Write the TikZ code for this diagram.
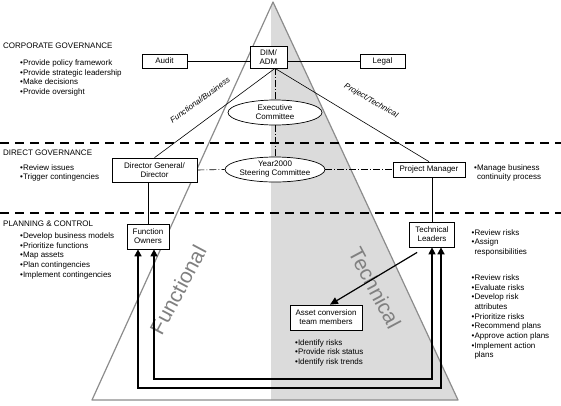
\documentclass[tikz,border=0pt]{standalone}
\usepackage{fontspec}
\setmainfont{Liberation Sans}
\usetikzlibrary{shapes.geometric, arrows.meta}

\begin{document}
\begin{tikzpicture}[
  x = 1pt,
  y = -1pt,
  every node/.style = {
    font = \fontsize{8}{9}\selectfont,
    inner sep = 0pt
  },
  box/.style = {
    draw = black,
    fill = white,
    align = center,
    line width = 0.7pt
  },
  committee/.style = {
    shape = ellipse,
    draw = black,
    fill = white,
    align = center,
    line width = 0.7pt,
    minimum width = 94pt,
    minimum height = 25pt
  },
  heading/.style = {
    anchor = north west,
    font = \fontsize{8}{9.7}\selectfont
  },
  notes/.style = {
    anchor = north west,
    align = left,
    font = \fontsize{8}{9.7}\selectfont
  },
  linelabel/.style = {
    font = \itshape\fontsize{8}{9}\selectfont
  },
  bigword/.style = {
    font = \fontsize{21}{21}\selectfont,
    text = black!50
  },
  divider/.style = {
    line width = 1.6pt,
    dash pattern = on 9pt off 6pt
  },
  link/.style = {
    line width = 0.6pt
  },
  liaison/.style = {
    line width = 0.6pt,
    dash pattern = on 7pt off 2pt on 1pt off 2pt
  },
  feedback/.style = {
    line width = 1.6pt,
    arrows = {Triangle[width = 7pt, length = 7pt]-Triangle[width = 7pt, length = 7pt]}
  }
]
  \useasboundingbox (0,0) rectangle (561,405);
  \coordinate (apex) at (273,2);
  \coordinate (lbase) at (92,400);
  \coordinate (rbase) at (458,400);
  \fill[black!14] (apex) -- (rbase) -- (271,400) -- (271,6.4) -- cycle;
  \draw[black!45, line width = 1.2pt, line join = round] (apex) -- (lbase) -- (rbase) -- cycle;

  \draw[divider] (0,143) -- (561,143);
  \draw[divider] (0,213) -- (561,213);

  \node[bigword, rotate = 62] (fw) at (178,290) {Functional};
  \node[bigword, rotate = -62] (tw) at (375,288) {Technical};

  \node[box, minimum width = 37pt, minimum height = 22pt] (dim) at (268.5,57) {DIM/\\ADM};
  \node[box, minimum width = 45pt, minimum height = 14pt] (audit) at (164.5,61) {Audit};
  \node[box, minimum width = 45pt, minimum height = 14pt] (legal) at (382.5,61) {Legal};
  \node[committee] (exec) at (275,112.5) {Executive\\Committee};
  \node[committee] (y2k) at (275,169.5) {Year2000\\Steering Committee};
  \node[box, minimum width = 85pt, minimum height = 24pt] (dg) at (154.5,170) {Director General/\\Director};
  \node[box, minimum width = 72pt, minimum height = 15pt] (pm) at (429,169.5) {Project Manager};
  \node[box, minimum width = 42pt, minimum height = 25pt] (fo) at (148,236.5) {Function\\Owners};
  \node[box, minimum width = 45pt, minimum height = 25pt] (tl) at (432,234.5) {Technical\\Leaders};
  \node[box, minimum width = 72pt, minimum height = 25pt] (acm) at (326,317.5) {Asset conversion\\team members};

  \node[linelabel, rotate = 36] (fb) at (200,100) {Functional/Business};
  \node[linelabel, rotate = -30] (pt) at (371,101) {Project/Technical};

  \coordinate (hub) at (dim.south -| exec.north);
  \draw[link] (audit.east) -- (audit.east -| dim.west);
  \draw[link] (legal.west -| dim.east) -- (legal.west);
  \draw[link] (hub) -- (dg.north);
  \draw[link] (hub) -- (pm.north);
  \draw[liaison] (hub) -- (exec.north);
  \draw[liaison] (exec.south) -- (y2k.north);
  \draw[liaison] (dg.east) -- (y2k.west);
  \draw[liaison] (y2k.east) -- (pm.west);
  \draw[link] (dg.south -| fo.north) -- (fo.north);
  \draw[link] (pm.south -| tl.north) -- (tl.north);
  \draw[link, line width = 1.2pt, -{Triangle[width = 7pt, length = 8pt]}]
    ([shift = {(8,5)}]tl.south west) -- ([xshift = 4pt]acm.north);

  \coordinate (il) at (154,379);
  \coordinate (ir) at (432,379);
  \coordinate (ol) at (138,388);
  \coordinate (or) at (441,388);
  \draw[feedback, line width = 1.2pt] (fo.south -| il) -- (il) -- (ir) -- (tl.south -| ir);
  \draw[feedback] (fo.south -| ol) -- (ol) -- (or) -- (tl.south -| or);

  \node[heading] (cg) at (3,42.5) {CORPORATE GOVERNANCE};
  \node[notes] (cgl) at (20,59.5) {•Provide policy framework\\•Provide strategic leadership\\•Make decisions\\•Provide oversight};
  \node[heading] (dgv) at (3,150) {DIRECT GOVERNANCE};
  \node[notes] (dgl) at (20,164) {•Review issues\\•Trigger contingencies};
  \node[heading] (pc) at (3,221) {PLANNING \& CONTROL};
  \node[notes] (pcl) at (20,232.5) {•Develop business models\\•Prioritize functions\\•Map assets\\•Plan contingencies\\•Implement contingencies};
  \node[notes] (pml) at (474,164) {•Manage business\\\hphantom{•}continuity process};
  \node[notes] (tll) at (471.5,229) {•Review risks\\•Assign\\\hphantom{•}responsibilities};
  \node[notes] (tlm) at (471.5,274.3) {•Review risks\\•Evaluate risks\\•Develop risk\\\hphantom{•}attributes\\•Prioritize risks\\•Recommend plans\\•Approve action plans\\•Implement action\\\hphantom{•}plans};
  \node[notes] (acl) at (295,339) {•Identify risks\\•Provide risk status\\•Identify risk trends};
\end{tikzpicture}
\end{document}
